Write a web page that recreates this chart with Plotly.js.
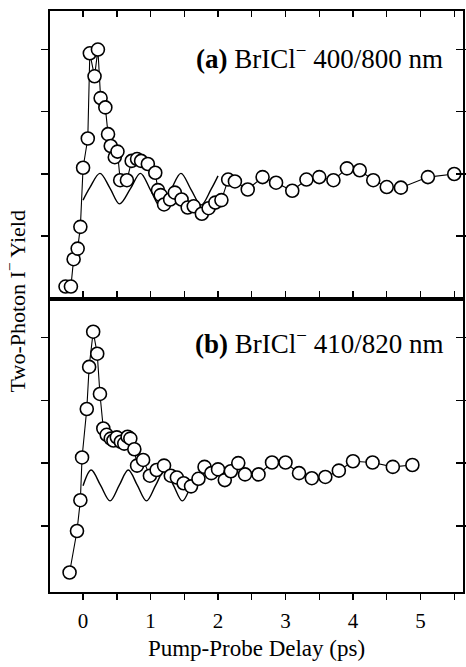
<!DOCTYPE html>
<html>
<head>
<meta charset="utf-8">
<script src="https://cdn.plot.ly/plotly-3.0.1.min.js"></script>
<style>html,body{margin:0;padding:0;background:#fff;}#chart{width:466px;height:667px;}</style>
</head>
<body>
<div id="chart"></div>
<script>
// ---- Data ----
// Panel (a): BrICl- 400/800 nm
const topX = [-0.26,-0.18,-0.14,-0.08,-0.04,0.00,0.07,0.10,0.17,0.22,0.26,0.33,0.37,0.41,0.47,0.51,0.55,0.65,0.72,0.80,0.86,0.96,1.07,1.11,1.15,1.20,1.29,1.36,1.46,1.55,1.64,1.76,1.86,1.96,2.05,2.15,2.25,2.44,2.66,2.86,3.10,3.31,3.50,3.71,3.91,4.10,4.30,4.50,4.71,5.11,5.50];
const topY = [0.19,0.19,0.63,0.80,1.15,2.10,2.57,3.94,3.57,4.00,3.22,3.07,2.64,2.45,2.27,2.36,1.90,1.90,2.21,2.24,2.21,2.16,2.02,1.74,1.66,1.51,1.59,1.70,1.59,1.46,1.48,1.36,1.45,1.54,1.58,1.91,1.88,1.75,1.95,1.86,1.73,1.91,1.95,1.90,2.09,2.06,1.90,1.79,1.78,1.95,2.00];
// oscillation curve (a), sampled at peaks, troughs and midpoints
const topFitX = [0.00,0.10,0.25,0.40,0.54,0.70,0.85,1.00,1.15,1.30,1.45,1.60,1.75,1.90,2.00];
const topFitY = [1.58,1.78,2.01,1.77,1.52,1.76,2.01,1.74,1.47,1.74,2.01,1.75,1.50,1.76,1.97];

// Panel (b): BrICl- 410/820 nm
const botX = [-0.20,-0.09,-0.04,-0.015,0.055,0.09,0.15,0.21,0.25,0.30,0.35,0.41,0.45,0.50,0.56,0.61,0.66,0.70,0.76,0.80,0.89,0.99,1.09,1.20,1.30,1.39,1.49,1.60,1.71,1.80,1.90,2.00,2.10,2.19,2.30,2.40,2.60,2.80,3.00,3.20,3.39,3.59,3.79,4.00,4.29,4.59,4.88];
const botY = [0.26,0.92,1.41,2.09,2.86,3.53,4.09,3.74,3.10,2.55,2.45,2.39,2.36,2.41,2.34,2.31,2.42,2.39,2.22,1.96,2.05,1.80,1.89,1.96,1.80,1.77,1.68,1.63,1.75,1.94,1.84,1.90,1.73,1.87,2.00,1.82,1.82,2.01,2.01,1.84,1.76,1.78,1.88,2.03,2.01,1.94,1.97];
const botFitX = [0.00,0.12,0.26,0.40,0.535,0.67,0.805,0.94,1.075,1.21,1.34,1.47,1.60];
const botFitY = [1.64,1.89,1.645,1.40,1.645,1.89,1.645,1.40,1.645,1.89,1.645,1.40,1.66];

// Axis ticks and labels (half-step ticks carry no label)
const xTickVals = [-0.5,0,0.5,1,1.5,2,2.5,3,3.5,4,4.5,5,5.5];
const xTickText = ['','0','','1','','2','','3','','4','','5',''];
const yTickVals = [1,2,3,4];
const panelLabels = ['<b>(a)</b> BrICl<sup>\u2212</sup> 400/800 nm', '<b>(b)</b> BrICl<sup>\u2212</sup> 410/820 nm'];
const xTitle = 'Pump-Probe Delay (ps)';
const yTitle = 'Two-Photon I<sup>\u2212</sup> Yield';

// ---- Chart ----
const serif = '"Liberation Serif", "Times New Roman", Times, serif';
const marker = {symbol:'circle', size:13, color:'white', line:{color:'black', width:1.6}};
const hidden = {mode:'markers', marker:{opacity:0}, showlegend:false, hoverinfo:'skip'};

const traces = [
  {x:topFitX, y:topFitY, xaxis:'x2', yaxis:'y2', mode:'lines', line:{color:'black', width:1.4, shape:'spline', smoothing:1}, hoverinfo:'skip'},
  {x:topX, y:topY, xaxis:'x2', yaxis:'y2', mode:'lines+markers', line:{color:'black', width:1.1}, marker:marker},
  {x:botFitX, y:botFitY, xaxis:'x', yaxis:'y', mode:'lines', line:{color:'black', width:1.4, shape:'spline', smoothing:1}, hoverinfo:'skip'},
  {x:botX, y:botY, xaxis:'x', yaxis:'y', mode:'lines+markers', line:{color:'black', width:1.1}, marker:marker},
  // invisible copies on helper axes that carry the inward right-edge ticks
  Object.assign({}, hidden, {x:topX, y:topY, xaxis:'x3', yaxis:'y5'}),
  Object.assign({}, hidden, {x:botX, y:botY, xaxis:'x4', yaxis:'y4'})
];

const xRange = [-0.49, 5.63];
const split = 0.5043;
const topRange = [-0.01, 4.62];
const botRange = [-0.05, 4.61];
const common = {showgrid:false, zeroline:false, showline:true, linecolor:'black', linewidth:1.6, tickcolor:'black', tickwidth:1.4};

const layout = {
  width:466, height:667,
  margin:{l:50, r:3, t:11, b:75},
  paper_bgcolor:'white', plot_bgcolor:'rgba(0,0,0,0)',
  showlegend:false,
  font:{family:serif, color:'black', size:16},
  // bottom panel
  xaxis: Object.assign({}, common, {
    domain:[0,1], anchor:'y', range:xRange,
    tickmode:'array', tickvals:xTickVals, ticktext:xTickText,
    ticks:'outside', ticklen:6, mirror:'ticks',
    tickfont:{family:serif, size:21}, ticklabelstandoff:3,
    title:{text:xTitle, font:{family:serif, size:23}, standoff:8}
  }),
  yaxis: Object.assign({}, common, {
    domain:[0,split], anchor:'x', range:botRange,
    tickmode:'array', tickvals:yTickVals, showticklabels:false,
    ticks:'outside', ticklen:7, mirror:'ticks'
  }),
  // top panel
  xaxis2: Object.assign({}, common, {
    domain:[0,1], anchor:'y2', range:xRange,
    tickmode:'array', tickvals:xTickVals, showticklabels:false,
    ticks:'inside', ticklen:6, mirror:'ticks'
  }),
  yaxis2: Object.assign({}, common, {
    domain:[split,1], anchor:'x2', range:topRange,
    tickmode:'array', tickvals:yTickVals, showticklabels:false,
    ticks:'outside', ticklen:7, mirror:'ticks'
  }),
  // helpers: inward ticks on the right edge of each panel
  xaxis3: {domain:[0,1], anchor:'y5', range:xRange, visible:false},
  yaxis5: Object.assign({}, common, {
    domain:[split,1], anchor:'x3', side:'right', range:topRange,
    tickmode:'array', tickvals:yTickVals, showticklabels:false,
    ticks:'inside', ticklen:7
  }),
  xaxis4: {domain:[0,1], anchor:'y4', range:xRange, visible:false},
  yaxis4: Object.assign({}, common, {
    domain:[0,split], anchor:'x4', side:'right', range:botRange,
    tickmode:'array', tickvals:yTickVals, showticklabels:false,
    ticks:'inside', ticklen:7
  }),
  annotations:[
    {text:panelLabels[0], xref:'paper', yref:'paper', x:0.956, y:0.921, xanchor:'right', yanchor:'middle', showarrow:false, font:{family:serif, size:27}},
    {text:panelLabels[1], xref:'paper', yref:'paper', x:0.956, y:0.430, xanchor:'right', yanchor:'middle', showarrow:false, font:{family:serif, size:27}},
    {text:yTitle, xref:'paper', yref:'paper', x:-0.085, y:0.50, xanchor:'center', yanchor:'middle', textangle:-90, showarrow:false, font:{family:serif, size:22}}
  ]
};

Plotly.newPlot('chart', traces, layout, {displayModeBar:false, staticPlot:true});
</script>
</body>
</html>
